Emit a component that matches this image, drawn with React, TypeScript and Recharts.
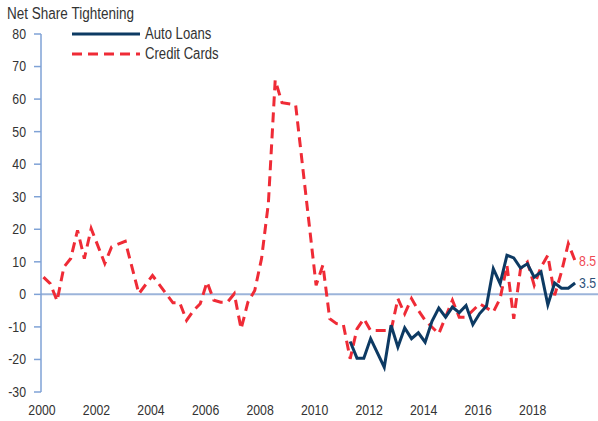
import React from "react";
import {
  LineChart,
  Line,
  XAxis,
  YAxis,
  ReferenceLine,
} from "recharts";

// quarters counted from 2000 Q1 (0) to 2019 Q3 (78); only the turning points
const creditQuarters = [
  0, 1, 2, 3, 4, 5, 6, 7, 9, 10, 12, 14, 16, 19, 20, 21, 22, 23, 24, 25, 26, 27, 28, 29,
  30, 31, 32, 33, 34, 35, 37, 40, 41, 42, 43, 44, 45, 46, 47, 48, 51, 52, 53, 54, 55, 56,
  58, 60, 61, 62, 64, 66, 67, 68, 69, 70, 71, 72, 73, 74, 75, 76, 77, 78,
];
const creditValues = [
  5.3, 3.3, -2, 8.4, 11, 19.7, 11, 20.2, 9.5, 14.6, 16.3, 0.2, 5.8, -2.6, -2.6, -8, -5, -2.9,
  3.8, -1.8, -2.4, -2.4, 0.2, -10.6, -2.4, 1.2, 11, 28, 65.8, 58.9, 58.2, 2.8, 9, -7.5, -9,
  -9.3, -19.8, -10.6, -7.5, -11.1, -11.1, -1.3, -6, -1.3, -4.9, -8, -12.1, -1.8, -7, -7,
  -2.9, -5.4, -1.3, 8.9, -7.5, 7.9, 9.9, 2.8, 8.4, 12, -0.3, 6.9, 15.6, 10.3,
];

const autoQuarters = [
  45, 46, 47, 48, 50, 51, 52, 53, 54, 55, 56, 57, 58, 59, 60, 61, 62, 63, 64, 65, 66, 67,
  68, 69, 70, 71, 72, 73, 74, 75, 76, 77, 78,
];
const autoValues = [
  -14.5, -19.6, -19.6, -13.6, -22.4, -9.5, -16.2, -10.3, -13.6, -11.8, -14.7, -8.3, -4.2,
  -7, -3.9, -5.6, -3.4, -9.3, -5.9, -3.6, 7.9, 3.3, 12, 11.2, 8.1, 9.4, 5.3, 6.9, -3.2,
  3.5, 1.9, 1.9, 3.5,
];

const latestCredit = "8.5";
const latestAuto = "3.5";

const yTicks = [-30, -20, -10, 0, 10, 20, 30, 40, 50, 60, 70, 80];
const xTicks = [2000, 2002, 2004, 2006, 2008, 2010, 2012, 2014, 2016, 2018];

const creditData = creditQuarters.map((q, i) => ({ t: 2000 + q / 4, v: creditValues[i] }));
const autoData = autoQuarters.map((q, i) => ({ t: 2000 + q / 4, v: autoValues[i] }));

const FONT = "'Liberation Sans', Arial, sans-serif";
const NAVY = "#0d3a63";
const RED = "#ef2b36";
const AXIS = "#7fa2d6";

// Liberation Sans squeezed horizontally to look like the narrow face of the original
function Narrow({ x, y, size, color = "#333", anchor = "start", baseline, children }: any) {
  return (
    <text
      transform={`translate(${x},${y}) scale(0.82,1)`}
      x={0}
      y={0}
      textAnchor={anchor}
      dominantBaseline={baseline}
      fontSize={size}
      fontFamily={FONT}
      fill={color}
    >
      {children}
    </text>
  );
}

function endLabel(text: string, color: string, last: number) {
  return (props: any) => {
    if (props.index !== last) return null;
    return (
      <Narrow x={props.x + 4} y={props.y} size={15} color={color} baseline="central">
        {text}
      </Narrow>
    );
  };
}

function XTick(props: any) {
  const { x, y, payload } = props;
  return (
    <Narrow x={x - 1.5} y={y + 13} size={15} anchor="middle">
      {payload.value}
    </Narrow>
  );
}

function YTick(props: any) {
  const { x, y, payload } = props;
  return (
    <Narrow x={x} y={y} size={15} anchor="end" baseline="central">
      {payload.value}
    </Narrow>
  );
}

export default function App() {
  return (
    <div style={{ position: "absolute", left: 0, top: 0, width: 598, height: 421, background: "#fff" }}>
      <LineChart width={598} height={421} margin={{ top: 34, right: 0, bottom: 0, left: 0 }}>
        <XAxis
          type="number"
          dataKey="t"
          domain={[1999.91, 2020.34]}
          ticks={xTicks}
          axisLine={false}
          tickLine={false}
          height={29}
          tickMargin={4}
          tick={<XTick />}
          allowDataOverflow
        />
        <YAxis
          type="number"
          domain={[-30, 80]}
          ticks={yTicks}
          width={41}
          axisLine={{ stroke: AXIS, strokeWidth: 1.5 }}
          tickLine={{ stroke: AXIS, strokeWidth: 1.5 }}
          tickSize={7}
          tickMargin={8}
          tick={<YTick />}
        />
        <ReferenceLine y={0} stroke="#9cb4da" strokeWidth={2} />
        <Line
          data={creditData}
          dataKey="v"
          type="linear"
          stroke={RED}
          strokeWidth={3}
          strokeDasharray="10 6"
          dot={false}
          isAnimationActive={false}
          label={endLabel(latestCredit, "#f04a54", creditData.length - 1)}
        />
        <Line
          data={autoData}
          dataKey="v"
          type="linear"
          stroke={NAVY}
          strokeWidth={3}
          dot={false}
          isAnimationActive={false}
          label={endLabel(latestAuto, "#2c4f78", autoData.length - 1)}
        />
      </LineChart>
      <svg
        width={598}
        height={421}
        style={{ position: "absolute", left: 0, top: 0, pointerEvents: "none" }}
      >
        <Narrow x={7} y={19} size={16.5}>
          Net Share Tightening
        </Narrow>
        <line x1={72} y1={34} x2={140} y2={34} stroke={NAVY} strokeWidth={3} />
        <Narrow x={145} y={34} size={16} baseline="central">
          Auto Loans
        </Narrow>
        <line x1={72} y1={54} x2={140} y2={54} stroke={RED} strokeWidth={3} strokeDasharray="10 6" />
        <Narrow x={145} y={54} size={16} baseline="central">
          Credit Cards
        </Narrow>
      </svg>
    </div>
  );
}
